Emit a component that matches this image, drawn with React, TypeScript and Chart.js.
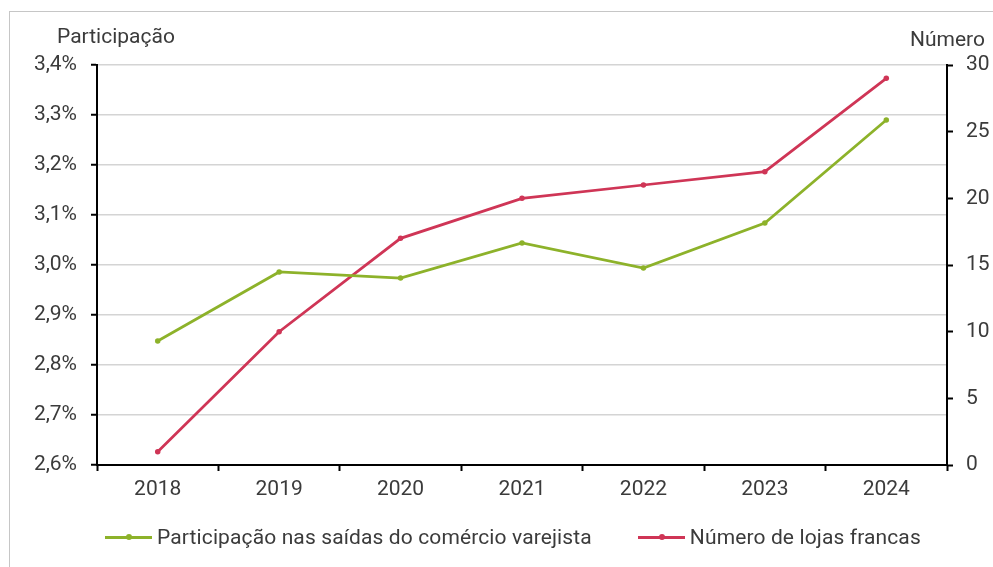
import React, { useEffect, useRef } from "react";
import { Chart, registerables } from "chart.js";

Chart.register(...registerables);

const categories = ["2018", "2019", "2020", "2021", "2022", "2023", "2024"];
const participacao = [2.848, 2.986, 2.974, 3.044, 2.994, 3.084, 3.29];
const numeroLojas = [1, 10, 17, 20, 21, 22, 29];
const seriesNames = ["Participação nas saídas do comércio varejista", "Número de lojas francas"];
const leftTitle = "Participação";
const rightTitle = "Número";

const GREEN = "#8db22a";
const RED = "#cf3556";
const TEXT = "#3b3b3b";
const FONT = "Roboto";
const FS = 21;

function LegendItem({ color, label, style }: { color: string; label: string; style?: any }) {
  return (
    <div style={{ display: "flex", alignItems: "center", ...style }}>
      <div style={{ position: "relative", width: 47, height: 3, background: color }}>
        <div
          style={{
            position: "absolute",
            left: 21,
            top: -1.5,
            width: 6,
            height: 6,
            borderRadius: 3,
            background: color,
          }}
        />
      </div>
      <span
        style={{
          marginLeft: 5,
          fontFamily: FONT,
          fontSize: FS,
          color: TEXT,
          whiteSpace: "nowrap",
          letterSpacing: "0.12px",
        }}
      >
        {label}
      </span>
    </div>
  );
}

export default function App() {
  const ref = useRef<HTMLCanvasElement | null>(null);
  useEffect(() => {
    if (!ref.current) return;
    const titles = {
      id: "axisTitles",
      afterDraw(chart: any) {
        const { ctx, chartArea } = chart;
        ctx.save();
        ctx.fillStyle = TEXT;
        ctx.font = `${FS}px ${FONT}`;
        ctx.textBaseline = "middle";
        ctx.textAlign = "left";
        ctx.fillText(leftTitle, chartArea.left - 40, chartArea.top - 27);
        ctx.textAlign = "right";
        ctx.fillText(rightTitle, chartArea.right + 38, chartArea.top - 24);
        ctx.restore();
      },
    };
    const chart = new Chart(ref.current, {
      type: "line",
      data: {
        labels: categories,
        datasets: [
          {
            label: seriesNames[0],
            data: participacao,
            yAxisID: "y",
            borderColor: GREEN,
            backgroundColor: GREEN,
            borderWidth: 2.75,
            pointRadius: 2.75,
            pointBorderWidth: 0,
            tension: 0,
          },
          {
            label: seriesNames[1],
            data: numeroLojas,
            yAxisID: "y1",
            borderColor: RED,
            backgroundColor: RED,
            borderWidth: 2.75,
            pointRadius: 2.75,
            pointBorderWidth: 0,
            tension: 0,
          },
        ],
      },
      options: {
        animation: false,
        responsive: true,
        maintainAspectRatio: false,
        layout: { padding: { top: 53, left: 0, right: 0, bottom: 56 } },
        plugins: {
          tooltip: { enabled: false },
          legend: { display: false },
        },
        scales: {
          x: {
            offset: true,
            grid: {
              offset: true,
              drawOnChartArea: false,
              drawTicks: true,
              tickLength: 6,
              tickColor: "#000",
              tickWidth: 2,
            },
            border: { display: true, color: "#000", width: 2 },
            ticks: { color: TEXT, font: { family: FONT, size: FS }, padding: 6, maxRotation: 0 },
            afterFit: (s: any) => {
              s.height = 46;
            },
          },
          y: {
            position: "left",
            min: 2.6,
            max: 3.4,
            ticks: {
              stepSize: 0.1,
              color: TEXT,
              font: { family: FONT, size: FS },
              padding: 14,
              callback: (v: any) => Number(v).toFixed(1).replace(".", ",") + "%",
            },
            grid: { color: "#d4d4d4", lineWidth: 1.5, tickColor: "#000", tickLength: 6, tickWidth: 2 },
            border: { display: true, color: "#000", width: 2 },
            afterFit: (s: any) => {
              s.width = 87;
            },
          },
          y1: {
            position: "right",
            min: 0,
            max: 30,
            ticks: { stepSize: 5, color: TEXT, font: { family: FONT, size: FS }, padding: 13 },
            grid: { drawOnChartArea: false, tickColor: "#000", tickLength: 6, tickWidth: 2 },
            border: { display: true, color: "#000", width: 2 },
            afterFit: (s: any) => {
              s.width = 46;
            },
          },
        },
      },
      plugins: [titles],
    });
    return () => chart.destroy();
  }, []);
  return (
    <div
      style={{
        position: "fixed",
        left: 9,
        top: 11,
        width: 1000,
        height: 600,
        borderLeft: "1px solid #c6c6c6",
        borderTop: "1px solid #c6c6c6",
        background: "#fff",
      }}
    >
      <div style={{ position: "absolute", left: 0, top: 0, width: 983, height: 555 }}>
        <canvas ref={ref} />
      </div>
      <div style={{ position: "absolute", left: 95, top: 513, height: 24, display: "flex", alignItems: "center" }}>
        <LegendItem color={GREEN} label={seriesNames[0]} />
        <LegendItem color={RED} label={seriesNames[1]} style={{ marginLeft: 46 }} />
      </div>
    </div>
  );
}
